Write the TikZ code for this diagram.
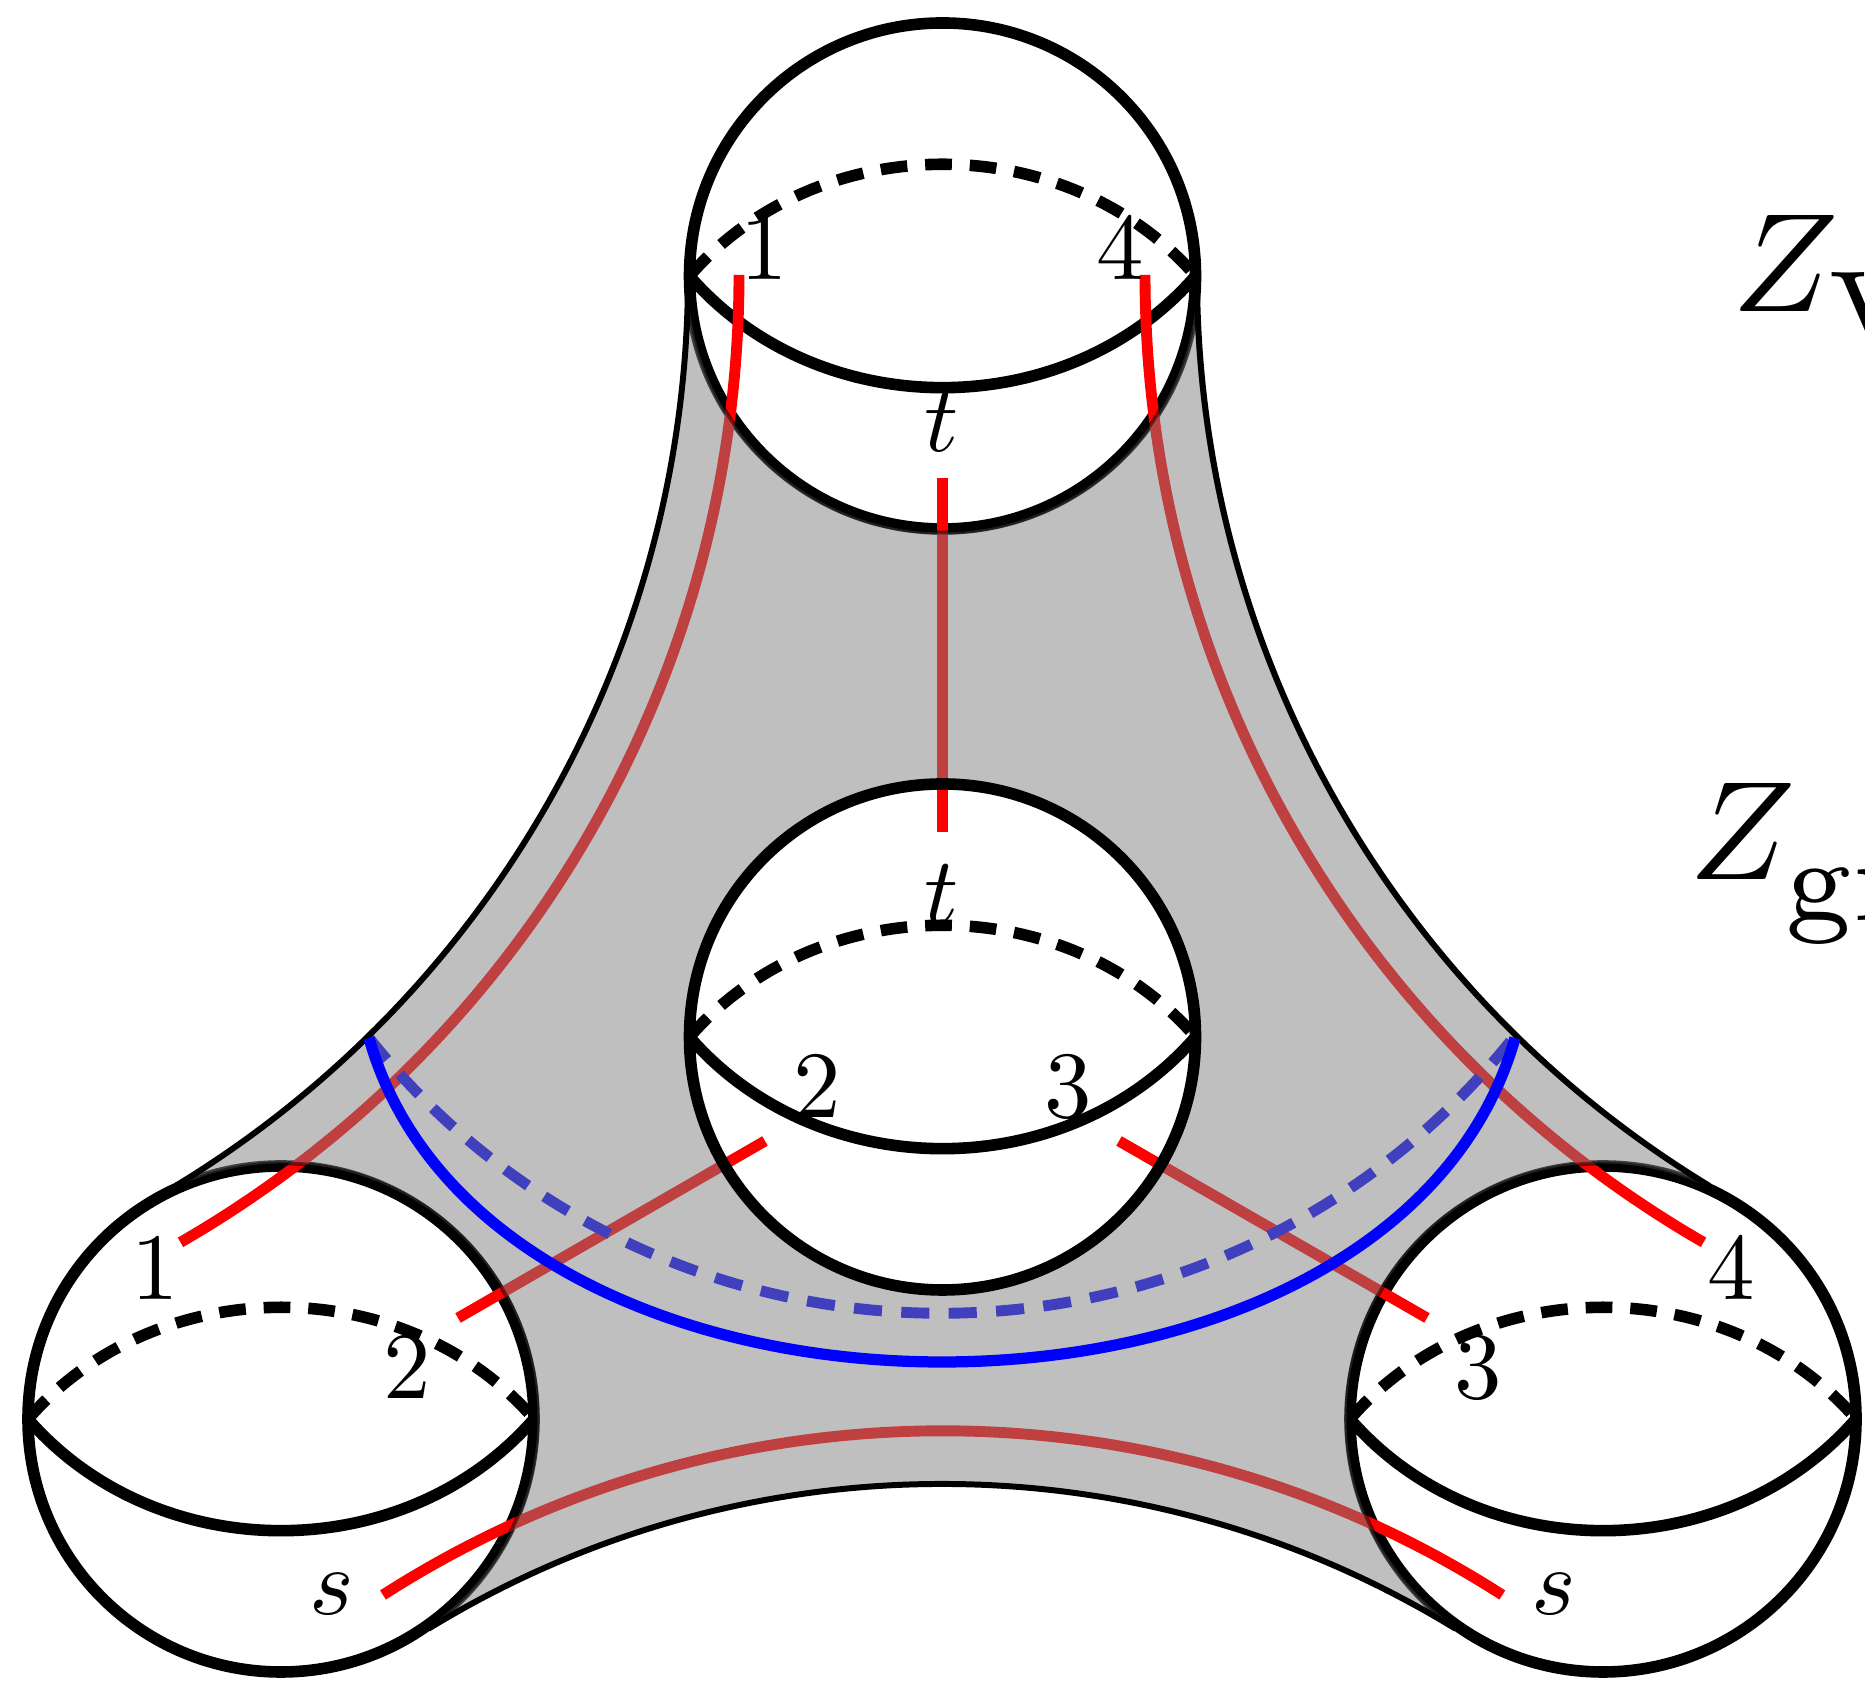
\documentclass[tikz,border=0pt]{standalone}
\usepackage{amsmath}
\usepackage{tikz}
\usetikzlibrary{calc}
\tikzset{
    ring/.style={black, line width=3.3pt},
    lensback/.style={black, line width=3.3pt, dash pattern=on 7.6pt off 5.1pt},
    redline/.style={red, line width=3.1pt},
    blueline/.style={blue, line width=3.2pt},
    bluedash/.style={blue, line width=3.1pt, dash pattern=on 8pt off 5.5pt},
    surface/.style={fill=gray, draw=black, line width=1.1pt, opacity=0.5, even odd rule},
    edgeline/.style={black, line width=1.7pt},
    lbl/.style={inner sep=0pt, scale=2.7},
    zlbl/.style={inner sep=0pt, scale=4, anchor=base west},
}
\newcommand{\sphereball}[1]{
    \draw[ring] (#1) circle (2.53);
    \draw[ring] ($(#1)+(-2.53,0)$) to[bend right=49] ($(#1)+(2.53,0)$);
    \draw[lensback] ($(#1)+(-2.53,0)$) to[bend left=49] ($(#1)+(2.53,0)$);
}
\newcommand{\subtext}[1]{\raisebox{-1.35pt}{\scalebox{1.19}{$\scriptstyle\mathrm{#1}$}}}

\begin{document}
\begin{tikzpicture}
    \useasboundingbox (0,0) rectangle (18.65,16.81);
    \coordinate (topball) at (9.425,14.05);
    \coordinate (midball) at (9.425,6.44);
    \coordinate (leftball) at (2.81,2.62);
    \coordinate (rightball) at (16.03,2.62);
    \coordinate (blueleft) at (3.69,6.43);
    \coordinate (blueright) at (15.15,6.43);

    % --- Outer spheres ---
    \sphereball{topball}
    \sphereball{leftball}
    \sphereball{rightball}

    % --- Red strands ---
    \draw[redline] (7.39,14.06) arc[start angle=0, end angle=-60, radius=11.17];
    \draw[redline] (11.45,14.06) arc[start angle=180, end angle=240, radius=11.17];
    \draw[redline] (3.83,0.86) arc[start angle=122.7, end angle=57.3, radius=10.36];
    \draw[redline] (9.425,12.03) -- (9.425,8.49);
    \draw[redline] (7.65,5.40) -- (4.58,3.63);
    \draw[redline] (11.19,5.40) -- (14.27,3.63);
    % back of the neck
    \draw[bluedash] (blueleft) arc[start angle=218.6, end angle=321.4, radius=7.32];

    % --- Grey surface ---
    \draw[surface] (6.88,14.06) arc[start angle=0, end angle=-58.7, radius=10.66]
        -- ($(leftball)+(0.02,0.01)+(114.3:2.545)$)
        arc[start angle=114.3, end angle=-54.9, radius=2.545]
        -- (4.284,0.522) arc[start angle=121.5, end angle=58.5, radius=9.83]
        -- ($(rightball)+(-0.02,0.01)+(234.9:2.545)$)
        arc[start angle=234.9, end angle=65.7, radius=2.545]
        -- (17.08,4.95) arc[start angle=238.7, end angle=180, radius=10.66]
        -- ($(topball)+(2.545,-0.02)$)
        arc[start angle=0, end angle=-180, radius=2.545] -- cycle
        (midball) circle (2.53);
    \draw[edgeline] (6.88,14.06) arc[start angle=0, end angle=-58.7, radius=10.66];
    \draw[edgeline] (11.97,14.06) arc[start angle=180, end angle=238.7, radius=10.66];
    \draw[edgeline] (4.284,0.522) arc[start angle=121.5, end angle=58.5, radius=9.83];

    % --- Front of the neck and middle sphere ---
    \draw[blueline] (blueleft) .. controls (4.91,2.11) and (13.93,2.11) .. (blueright);
    \sphereball{midball}

    % --- Labels ---
    \node[lbl] (topone) at (7.64,14.32) {$1$};
    \node[lbl] (topfour) at (11.20,14.32) {$4$};
    \node[lbl] (topt) at (9.42,12.59) {$t$};
    \node[lbl] (midt) at (9.42,7.87) {$t$};
    \node[lbl] (midtwo) at (8.17,5.94) {$2$};
    \node[lbl] (midthree) at (10.68,5.94) {$3$};
    \node[lbl] (leftone) at (1.55,4.12) {$1$};
    \node[lbl] (lefttwo) at (4.07,3.13) {$2$};
    \node[lbl] (lefts) at (3.32,0.87) {$s$};
    \node[lbl] (rightfour) at (17.31,4.12) {$4$};
    \node[lbl] (rightthree) at (14.78,3.13) {$3$};
    \node[lbl] (rights) at (15.54,0.87) {$s$};

    \node[zlbl] (zv) at (17.3,13.69) {$Z_{\subtext{V}}$};
    \node[zlbl] (zgr) at (16.87,8.01) {$Z_{\subtext{gr}}$};
\end{tikzpicture}
\end{document}
